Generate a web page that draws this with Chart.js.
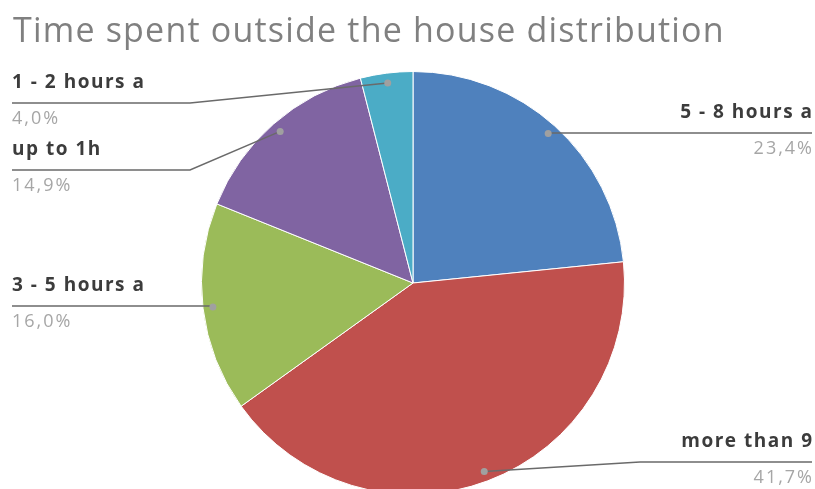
<!DOCTYPE html>
<html>
<head>
<meta charset="utf-8">
<script src="https://cdn.jsdelivr.net/npm/chart.js@4.4.1/dist/chart.umd.min.js"></script>
<style>
  html, body { margin: 0; padding: 0; background: #fff; overflow: hidden; }
  #wrap { width: 815px; height: 500px; }
</style>
</head>
<body>
<div id="wrap"><canvas id="pie" width="815" height="500"></canvas></div>
<script>
// data (clockwise from 12 o'clock)
var categories = ["5 - 8 hours a", "more than 9", "3 - 5 hours a", "up to 1h", "1 - 2 hours a"];
var shares = [23.4, 41.7, 16.0, 14.9, 4.0];
var sliceColors = ["#4F81BD", "#C0504D", "#9BBB59", "#8064A2", "#4BACC6"];

// where each callout sits: side of the chart and the y of its underline
var calloutSide = ["right", "right", "left", "left", "left"];
var calloutLineY = [133, 462, 306, 170, 103];
var calloutBendX = [null, 640, null, 190, 190];

// draw title + leader-line callouts
var calloutPlugin = {
    id: "callouts",
    afterDatasetsDraw: function (chart) {
        var ctx = chart.ctx;
        var arcs = chart.getDatasetMeta(0).data;

        ctx.save();
        ctx.fillStyle = "#808080";
        ctx.font = "34px 'Open Sans'";
        ctx.letterSpacing = "1.2px";
        ctx.textAlign = "left";
        ctx.textBaseline = "alphabetic";
        ctx.fillText("Time spent outside the house distribution", 13, 42);

        arcs.forEach(function (arc, i) {
            var p = arc.getProps(["x", "y", "startAngle", "endAngle", "outerRadius"], true);
            var mid = (p.startAngle + p.endAngle) / 2;
            var r = p.outerRadius * 0.953;
            var dx = p.x + Math.cos(mid) * r;
            var dy = p.y + Math.sin(mid) * r;
            var ly = calloutLineY[i];
            var left = calloutSide[i] === "left";
            var endX = left ? 12 : 812;

            ctx.strokeStyle = "#6a6a6a";
            ctx.lineWidth = 1.5;
            ctx.beginPath();
            ctx.moveTo(dx, dy);
            if (calloutBendX[i] !== null) ctx.lineTo(calloutBendX[i], ly);
            else ctx.lineTo(dx, ly);
            ctx.lineTo(endX, ly);
            ctx.stroke();

            ctx.fillStyle = "#a0a0a0";
            ctx.beginPath();
            ctx.arc(dx, dy, 3.5, 0, Math.PI * 2);
            ctx.fill();

            ctx.textAlign = left ? "left" : "right";
            ctx.textBaseline = "alphabetic";
            ctx.fillStyle = "#3c3c3c";
            ctx.font = "bold 19px 'Open Sans'";
            ctx.letterSpacing = "1.5px";
            ctx.fillText(categories[i], endX + (left ? 0 : 1.5), ly - 15);
            ctx.fillStyle = "#a6a6a6";
            ctx.font = "18px 'Open Sans'";
            ctx.letterSpacing = "2px";
            ctx.fillText(shares[i].toFixed(1).replace(".", ",") + "%", endX + (left ? 0 : 2), ly + 21);
        });
        ctx.restore();
    }
};

new Chart(document.getElementById("pie").getContext("2d"), {
    type: "pie",
    data: {
        labels: categories,
        datasets: [{
            data: shares,
            backgroundColor: sliceColors,
            borderColor: "#ffffff",
            borderWidth: 1
        }]
    },
    options: {
        responsive: false,
        animation: false,
        layout: { padding: { left: 201, right: 190, top: 71, bottom: 5 } },
        plugins: {
            legend: { display: false },
            title: { display: false },
            tooltip: { enabled: false }
        }
    },
    plugins: [calloutPlugin]
});
</script>
</body>
</html>
